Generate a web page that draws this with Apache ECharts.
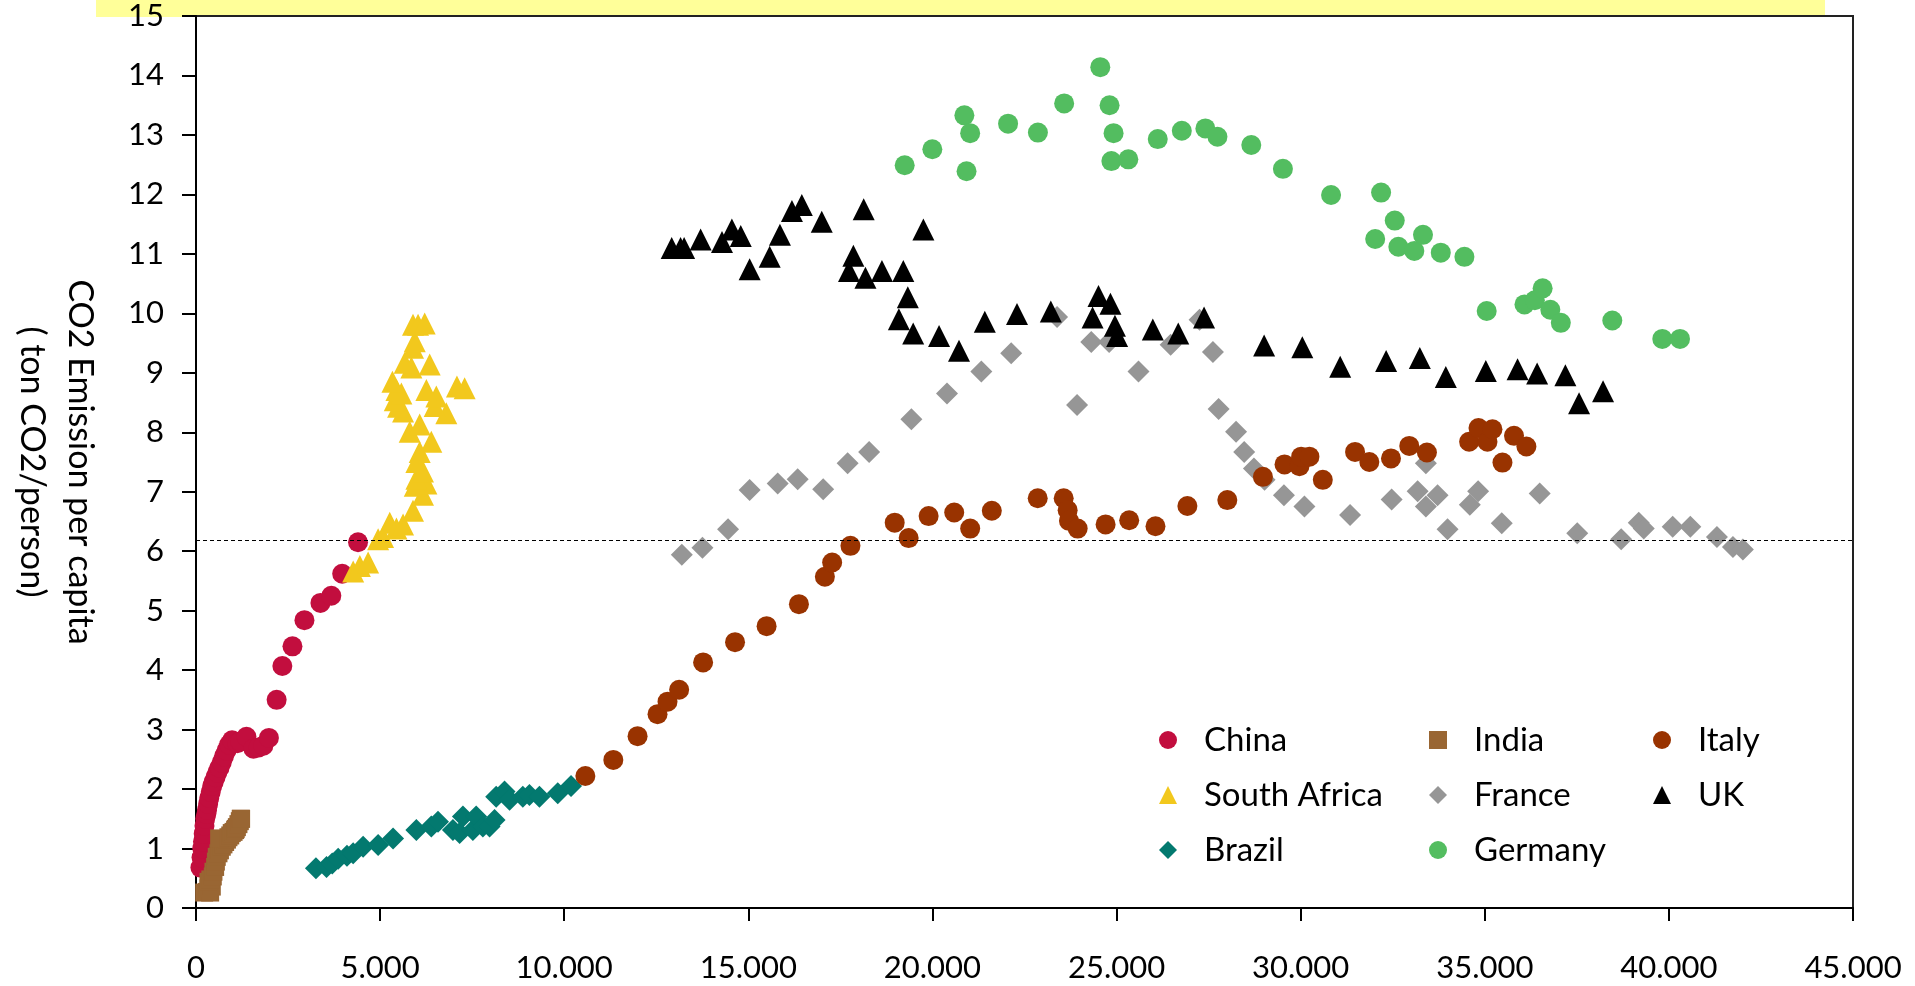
<!DOCTYPE html>
<html>
<head>
<meta charset="utf-8">
<script src="https://cdn.jsdelivr.net/npm/echarts@6/dist/echarts.min.js"></script>
<style>
  html, body { margin: 0; padding: 0; background: #fff; }
  #chart { width: 1915px; height: 986px; }
</style>
</head>
<body>
<div id="chart"></div>
<script>
// GDP per capita (x) vs CO2 emission per capita (y)
var china = [[120,0.68],[150,0.85],[170,1.0],[190,1.12],[210,1.25],[230,1.38],[250,1.5],[280,1.58],[300,1.65],[330,1.75],[360,1.85],[400,1.95],[440,2.05],[480,2.12],[530,2.2],[580,2.28],[640,2.36],[700,2.45],[760,2.55],[830,2.65],[900,2.75],[980,2.82],[1125,2.77],[1200,2.8],[1370,2.88],[1560,2.68],[1700,2.7],[1830,2.73],[1980,2.86],[2190,3.5],[2345,4.07],[2620,4.4],[2945,4.84],[3380,5.13],[3675,5.25],[3970,5.62],[4400,6.15]];
var india = [[221,0.26],[300,0.27],[384,0.26],[340,0.33],[429,0.36],[339,0.44],[390,0.48],[456,0.53],[474,0.61],[519,0.69],[540,0.78],[564,0.86],[610,0.92],[650,0.97],[700,1.03],[745,1.07],[791,1.11],[840,1.15],[628,1.17],[881,1.19],[930,1.22],[971,1.26],[1020,1.28],[1062,1.31],[1079,1.33],[1110,1.36],[1152,1.41],[1190,1.46],[1215,1.5],[1225,1.5]];
var southAfrica = [[4268,5.66],[4450,5.75],[4675,5.81],[4946,6.2],[5081,6.24],[5262,6.48],[5443,6.38],[5624,6.45],[5894,6.68],[6165,6.95],[5940,7.1],[6256,7.14],[5984,7.22],[6165,7.34],[5984,7.5],[6075,7.67],[6391,7.84],[5804,8.01],[6075,8.13],[6798,8.32],[5624,8.35],[5488,8.43],[6482,8.44],[5397,8.54],[6527,8.6],[5578,8.65],[5443,8.71],[6256,8.71],[7295,8.74],[7087,8.77],[5334,8.85],[5849,9.09],[6346,9.14],[5668,9.17],[5894,9.42],[5940,9.53],[5894,9.81],[6030,9.81],[6211,9.83]];
var brazil = [[3257,0.67],[3545,0.69],[3700,0.75],[3862,0.83],[4100,0.88],[4268,0.92],[4539,1.03],[4946,1.06],[5352,1.17],[5984,1.31],[6391,1.37],[6572,1.45],[6978,1.31],[7159,1.26],[7249,1.54],[7520,1.31],[7610,1.54],[7791,1.37],[7972,1.37],[8108,1.48],[8152,1.87],[8379,1.96],[8515,1.82],[8875,1.87],[9056,1.9],[9327,1.87],[9824,1.93],[10185,2.05]];
var france = [[13193,5.94],[13753,6.06],[14449,6.37],[15035,7.03],[15797,7.14],[16341,7.21],[17033,7.04],[17697,7.48],[18280,7.67],[19428,8.22],[20396,8.65],[21328,9.02],[22138,9.33],[23385,9.94],[23927,8.46],[24313,9.52],[24799,9.52],[25596,9.02],[26468,9.47],[27254,9.89],[27617,9.35],[27772,8.39],[28246,8.01],[28466,7.67],[28731,7.39],[29019,7.2],[29545,6.94],[30103,6.75],[31341,6.61],[32471,6.87],[33176,7.01],[33400,7.48],[33400,6.75],[33718,6.94],[33989,6.37],[34594,6.78],[34819,7.01],[35461,6.47],[36491,6.97],[37512,6.3],[38704,6.2],[39182,6.48],[39317,6.38],[40103,6.41],[40582,6.41],[41305,6.24],[41739,6.07],[42010,6.03]];
var germany = [[19246,12.49],[19997,12.76],[20867,13.33],[21024,13.03],[20926,12.39],[22054,13.19],[22864,13.04],[23577,13.53],[24558,14.14],[24810,13.5],[24919,13.03],[24859,12.56],[25320,12.59],[26119,12.93],[26772,13.07],[27412,13.11],[27740,12.97],[28659,12.83],[29518,12.43],[30826,11.99],[32184,12.03],[32024,11.25],[32555,11.56],[32653,11.12],[33086,11.05],[33322,11.32],[33805,11.02],[34447,10.95],[35052,10.04],[36078,10.15],[36360,10.22],[36571,10.42],[36780,10.06],[37065,9.84],[38463,9.88],[39821,9.57],[40302,9.57]];
var italy = [[10574,2.22],[11333,2.49],[11992,2.89],[12534,3.26],[12805,3.47],[13121,3.67],[13772,4.13],[14639,4.47],[15496,4.74],[16374,5.11],[17079,5.57],[17276,5.81],[17773,6.09],[18975,6.48],[19354,6.22],[19896,6.59],[20591,6.65],[21025,6.38],[21612,6.68],[22859,6.89],[23564,6.89],[23672,6.69],[23708,6.51],[23944,6.38],[24702,6.45],[25343,6.52],[26057,6.42],[26924,6.76],[28008,6.86],[28975,7.25],[29561,7.46],[29967,7.43],[30013,7.59],[30238,7.59],[30601,7.2],[31477,7.67],[31865,7.5],[32453,7.56],[32949,7.77],[33429,7.66],[34575,7.84],[34829,8.07],[35073,7.84],[35209,8.05],[35480,7.49],[35794,7.94],[36130,7.76]];
var uk = [[12918,11.1],[13160,11.1],[13257,11.1],[13705,11.24],[14285,11.2],[14553,11.41],[14794,11.3],[15035,10.74],[15580,10.95],[15859,11.32],[16184,11.72],[16452,11.82],[16994,11.54],[17734,10.71],[17853,10.97],[18133,11.75],[18181,10.6],[18628,10.71],[19089,9.9],[19208,10.71],[19331,10.27],[19477,9.66],[19754,11.41],[20179,9.62],[20721,9.37],[21423,9.86],[22296,9.99],[23215,10.03],[24349,9.93],[24509,10.29],[24834,10.16],[24956,9.79],[25016,9.62],[25984,9.73],[26675,9.66],[27377,9.93],[29008,9.46],[30045,9.43],[31073,9.1],[32320,9.2],[33236,9.25],[33941,8.93],[35028,9.03],[35891,9.06],[36422,8.99],[37189,8.96],[37560,8.49],[38213,8.69]];

var worldAverage = 6.18;
var legendCol1 = ['China', 'South Africa', 'Brazil'];
var legendCol2 = ['India', 'France', 'Germany'];
var legendCol3 = ['Italy', 'UK'];

var FONT = 'Lato';
var chart = echarts.init(document.getElementById('chart'));

function mk(name, data, color, symbol, size) {
  return {
    type: 'scatter',
    name: name,
    data: data,
    symbol: symbol,
    symbolSize: size,
    itemStyle: { color: color, opacity: 1 },
    emphasis: { disabled: true }
  };
}

var series = [
  mk('China', china, '#C20E3E', 'circle', 20),
  mk('India', india, '#996633', 'rect', 18),
  mk('South Africa', southAfrica, '#F2C81D', 'triangle', 22),
  mk('Brazil', brazil, '#03796F', 'diamond', 22),
  mk('France', france, '#969696', 'diamond', 22),
  mk('Germany', germany, '#53BD60', 'circle', 20),
  mk('Italy', italy, '#993300', 'circle', 20),
  mk('UK', uk, '#000000', 'triangle', 22)
];
series[0].markLine = {
  silent: true,
  symbol: 'none',
  label: { show: false },
  lineStyle: { color: '#000', width: 1, type: [4, 3] },
  data: [{ yAxis: worldAverage }]
};

function legendCol(names, left) {
  return {
    data: names,
    orient: 'vertical',
    left: left,
    top: 717,
    itemWidth: 18,
    itemHeight: 18,
    itemGap: 19,
    selectedMode: false,
    textStyle: { fontFamily: FONT, fontSize: 33, color: '#000', lineHeight: 36, padding: [0, 0, 0, 22] }
  };
}

var option = {
  backgroundColor: '#fff',
  animation: false,
  graphic: [{
    type: 'rect',
    z: -10,
    shape: { x: 96, y: 0, width: 1729, height: 17 },
    style: { fill: '#FFFF99' }
  }],
  grid: {
    left: 193, right: 62, top: 16, bottom: 78,
    show: true, borderColor: '#222', borderWidth: 2, backgroundColor: 'transparent'
  },
  legend: [legendCol(legendCol1, 1154), legendCol(legendCol2, 1424), legendCol(legendCol3, 1648)],
  xAxis: {
    type: 'value',
    min: 0, max: 45000, interval: 5000,
    axisLine: { lineStyle: { color: '#000', width: 2 } },
    axisTick: { show: true, length: 13, lineStyle: { color: '#000', width: 2 } },
    splitLine: { show: false },
    axisLabel: {
      margin: 44,
      fontFamily: FONT, fontSize: 31, color: '#000',
      formatter: function (v) { return v === 0 ? '0' : (v / 1000) + '.000'; }
    }
  },
  yAxis: {
    type: 'value',
    min: 0, max: 15, interval: 1,
    name: 'CO2 Emission per capita\n( ton CO2/person)',
    nameLocation: 'middle',
    nameRotate: -90,
    nameGap: 92,
    nameTextStyle: { fontFamily: FONT, fontSize: 34, color: '#000', lineHeight: 48 },
    axisLine: { lineStyle: { color: '#000', width: 2 } },
    axisTick: { show: true, length: 14, lineStyle: { color: '#000', width: 2 } },
    splitLine: { show: false },
    axisLabel: { margin: 32, fontFamily: FONT, fontSize: 31, color: '#000' }
  },
  series: series
};
chart.setOption(option);
</script>
</body>
</html>
